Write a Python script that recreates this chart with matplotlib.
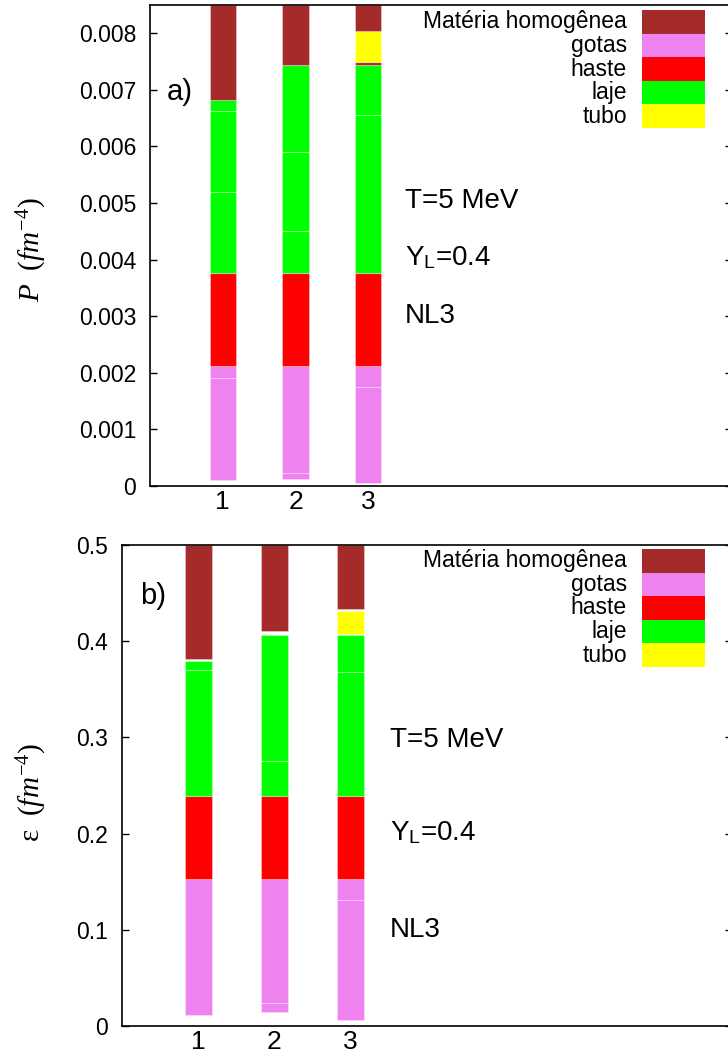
"Stacked phase bars for pressure and energy density (T=5 MeV, Y_L=0.4, NL3)"

import matplotlib as mpl
import matplotlib.pyplot as plt
from matplotlib.patches import Rectangle

mpl.rcParams["font.family"] = ["Liberation Sans", "DejaVu Sans"]
mpl.rcParams["mathtext.fontset"] = "custom"
mpl.rcParams["mathtext.rm"] = "Liberation Serif"
mpl.rcParams["mathtext.it"] = "Liberation Serif:italic"
mpl.rcParams["mathtext.sf"] = "Liberation Sans"

W, H = 728, 1054

#####
# Data
#####

PHASES = ["Matéria homogênea", "gotas", "haste", "laje", "tubo"]
COLORS = ["#a52a2a", "#ee82ee", "#ff0000", "#00ff00", "#ffff00"]
CONFIGS = [1, 2, 3]

# (configuration, phase index, lower, upper) for the pressure panel
P_SEGMENTS = [
    (1, 1, 0.00010, 0.00190), (1, 1, 0.00190, 0.00212),
    (1, 2, 0.00212, 0.00377),
    (1, 3, 0.00377, 0.00519), (1, 3, 0.00519, 0.00662), (1, 3, 0.00662, 0.00682),
    (1, 0, 0.00682, 0.00850),
    (2, 1, 0.00012, 0.00023), (2, 1, 0.00023, 0.00212),
    (2, 2, 0.00212, 0.00377),
    (2, 3, 0.00377, 0.00451), (2, 3, 0.00451, 0.00589), (2, 3, 0.00589, 0.00744),
    (2, 0, 0.00744, 0.00850),
    (3, 1, 0.00005, 0.00175), (3, 1, 0.00175, 0.00212),
    (3, 2, 0.00212, 0.00377),
    (3, 3, 0.00377, 0.00656), (3, 3, 0.00656, 0.00744),
    (3, 0, 0.00744, 0.00748),
    (3, 4, 0.00748, 0.00804),
    (3, 0, 0.00804, 0.00850),
]

# (configuration, phase index, lower, upper) for the energy density panel
E_SEGMENTS = [
    (1, 1, 0.0117, 0.1523),
    (1, 2, 0.1523, 0.2395),
    (1, 3, 0.2395, 0.3700), (1, 3, 0.3700, 0.3793),
    (1, 0, 0.3818, 0.5000),
    (2, 1, 0.0142, 0.0239), (2, 1, 0.0239, 0.1523),
    (2, 2, 0.1523, 0.2395),
    (2, 3, 0.2395, 0.2750), (2, 3, 0.2750, 0.4060),
    (2, 0, 0.4110, 0.5000),
    (3, 1, 0.0062, 0.1305), (3, 1, 0.1305, 0.1523),
    (3, 2, 0.1523, 0.2395),
    (3, 3, 0.2395, 0.3680), (3, 3, 0.3680, 0.4060),
    (3, 4, 0.4070, 0.4310),
    (3, 0, 0.4330, 0.5000),
]

P_TICKS = [0, 0.001, 0.002, 0.003, 0.004, 0.005, 0.006, 0.007, 0.008]
P_TICKLABELS = ["0", "0.001", "0.002", "0.003", "0.004", "0.005", "0.006", "0.007", "0.008"]
E_TICKS = [0, 0.1, 0.2, 0.3, 0.4, 0.5]
E_TICKLABELS = ["0", "0.1", "0.2", "0.3", "0.4", "0.5"]

#####
# Utils
#####


def frac(x, y):
    "Pixel position (from top left) to figure fraction"
    return x / W, 1 - y / H


def axes_box(left, top, right, bottom):
    "Axes rectangle from pixel edges"
    x0, y1 = frac(left, top)
    x1, y0 = frac(right, bottom)
    return [x0, y0, x1 - x0, y1 - y0]


def bars(ax, segments):
    "Draws each stacked segment as a box"
    for config, phase, lo, hi in segments:
        ax.bar(config, hi - lo, bottom=lo, width=0.36, color=COLORS[phase],
               edgecolor=(1, 1, 1, 0.3), linewidth=0.8, zorder=2)


def style(ax, ylim, ticks, labels):
    "Gnuplot-like frame with inward ticks on both sides"
    ax.set_xlim(0, 8)
    ax.set_ylim(*ylim)
    ax.set_xticks(CONFIGS)
    ax.set_xticklabels([str(c) for c in CONFIGS], fontsize=19)
    ax.set_yticks(ticks)
    ax.set_yticklabels(labels, fontsize=16.5)
    ax.tick_params(axis="x", length=0, pad=3)
    ax.tick_params(axis="y", direction="in", length=5, width=1, left=True,
                   right=True, pad=10)
    for spine in ax.spines.values():
        spine.set_linewidth(1.2)
        spine.set_zorder(3)


def legend(fig, top):
    "Phase legend with right-aligned names and colour boxes"
    row = 23.6
    for i, (name, color) in enumerate(zip(PHASES, COLORS)):
        y = top + i * row
        x0, y0 = frac(642, y + row)
        w, h = 63 / W, row / H
        fig.patches.append(Rectangle((x0, y0), w, h, transform=fig.transFigure,
                                     facecolor=color, edgecolor="none"))
        tx, ty = frac(627, y + row / 2)
        fig.text(tx, ty, name, ha="right", va="center", fontsize=16.5)


def notes(fig, x, ys):
    "Model parameters written inside the panel"
    texts = ["T=5 MeV", r"Y$_{\mathsf{L}}$=0.4", "NL3"]
    for text, y in zip(texts, ys):
        fx, fy = frac(x, y)
        fig.text(fx, fy, text, ha="left", va="center", fontsize=20)


#####
# Figure
#####

fig = plt.figure(figsize=(W / 100, H / 100), dpi=100)

# a) pressure
ax1 = fig.add_axes(axes_box(150, 4.7, 732, 486))
bars(ax1, P_SEGMENTS)
style(ax1, (0, 0.0085), P_TICKS, P_TICKLABELS)
legend(fig, 10)
notes(fig, 405, [201, 258, 316])
fig.text(*frac(167, 92), "a)", ha="left", va="center", fontsize=21)
fig.text(*frac(32, 250), r"$P\ \ (fm^{-4})$", rotation=90, ha="center",
         va="center", fontsize=21)

# b) energy density
ax2 = fig.add_axes(axes_box(122, 545, 732, 1026))
bars(ax2, E_SEGMENTS)
style(ax2, (0, 0.5), E_TICKS, E_TICKLABELS)
legend(fig, 549)
notes(fig, 390, [740, 833, 930])
fig.text(*frac(140, 596), "b)", ha="left", va="center", fontsize=21)
fig.text(*frac(32, 792), r"$\mathrm{ε}\ \ (fm^{-4})$", rotation=90,
         ha="center", va="center", fontsize=21)

fig.savefig("out.png", dpi=100)
